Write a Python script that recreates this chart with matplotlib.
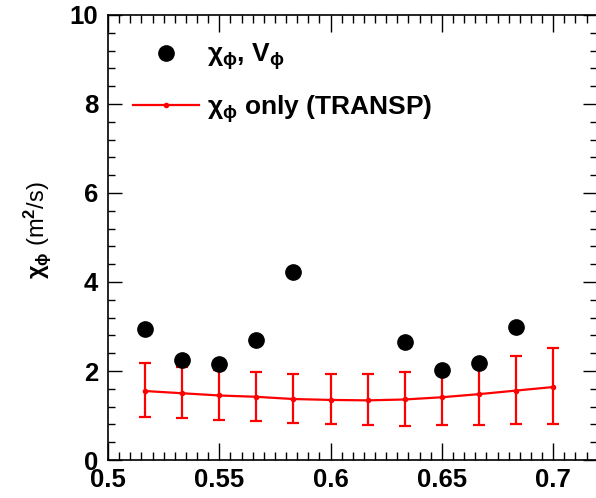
import numpy as np
import matplotlib
matplotlib.use("Agg")
import matplotlib.pyplot as plt
from matplotlib.lines import Line2D
from matplotlib.ticker import MultipleLocator

plt.rcParams['font.family'] = ['Liberation Sans', 'DejaVu Sans']
plt.rcParams['font.weight'] = 'bold'
plt.rcParams['mathtext.fontset'] = 'custom'
plt.rcParams['mathtext.rm'] = 'Liberation Sans:bold'
plt.rcParams['mathtext.it'] = 'Liberation Sans:bold'
plt.rcParams['mathtext.bf'] = 'Liberation Sans:bold'

# measured chi_phi, V_phi points
rho_meas = [0.5167, 0.5333, 0.55, 0.5667, 0.5833, 0.6333, 0.65, 0.6667, 0.6833]
chi_meas = [2.95, 2.24, 2.15, 2.69, 4.22, 2.65, 2.03, 2.17, 2.99]

# TRANSP chi_phi only, with asymmetric error bars
rho_tr = [0.5167, 0.5333, 0.55, 0.5667, 0.5833, 0.6, 0.6167, 0.6333, 0.65, 0.6667, 0.6833, 0.7]
chi_tr = [1.55, 1.50, 1.45, 1.42, 1.37, 1.35, 1.34, 1.36, 1.41, 1.48, 1.56, 1.64]
chi_hi = [2.17, 2.08, 2.02, 1.97, 1.94, 1.93, 1.94, 1.98, 2.06, 2.19, 2.34, 2.52]
chi_lo = [0.97, 0.94, 0.91, 0.88, 0.84, 0.80, 0.78, 0.77, 0.78, 0.79, 0.80, 0.81]

fig = plt.figure(figsize=(5.96, 4.98), dpi=100)
ax = fig.add_axes([0.1812, 0.0763, 0.8205, 0.8936])

yerr = [np.array(chi_tr) - np.array(chi_lo), np.array(chi_hi) - np.array(chi_tr)]
ax.errorbar(rho_tr, chi_tr, yerr=yerr, color='red', lw=1.6, marker='o', ms=3,
            capsize=4, capthick=1.6, elinewidth=1.6, zorder=2)
ax.plot(rho_meas, chi_meas, 'o', color='black', ms=11, zorder=3)

ax.set_xlim(0.5, 0.7197)
ax.set_ylim(0, 10)
ax.xaxis.set_major_locator(MultipleLocator(0.05))
ax.xaxis.set_minor_locator(MultipleLocator(0.005))
ax.yaxis.set_major_locator(MultipleLocator(2))
ax.yaxis.set_minor_locator(MultipleLocator(0.4))
ax.set_xticks([0.5, 0.55, 0.6, 0.65, 0.7])
ax.set_xticklabels(['0.5', '0.55', '0.6', '0.65', '0.7'])
ax.tick_params(which='both', direction='in', top=True, right=True, labelsize=18.5, width=1)
ax.tick_params(axis='x', which='major', length=12, pad=6)
ax.tick_params(axis='x', which='minor', length=6)
ax.tick_params(axis='y', which='major', length=10, pad=7)
ax.tick_params(axis='y', which='minor', length=5)
for s in ax.spines.values():
    s.set_linewidth(1.2)

ax.set_ylabel(r'$\chi_\phi$ (m$^2$/s)', fontsize=17)
ax.yaxis.set_label_coords(-0.112, 0.517)

h1 = Line2D([], [], ls='none', marker='o', color='black', ms=11)
h2 = Line2D([], [], color='red', lw=1.6, marker='o', ms=3)
ax.legend([h1, h2], [r'$\chi_\phi$, V$_\phi$', r'$\chi_\phi$ only (TRANSP)'],
          loc='upper left', bbox_to_anchor=(0.003, 0.994), frameon=False,
          fontsize=19, handlelength=2.5, handletextpad=0.3, labelspacing=0.8)

fig.savefig('out.png', dpi=100)
